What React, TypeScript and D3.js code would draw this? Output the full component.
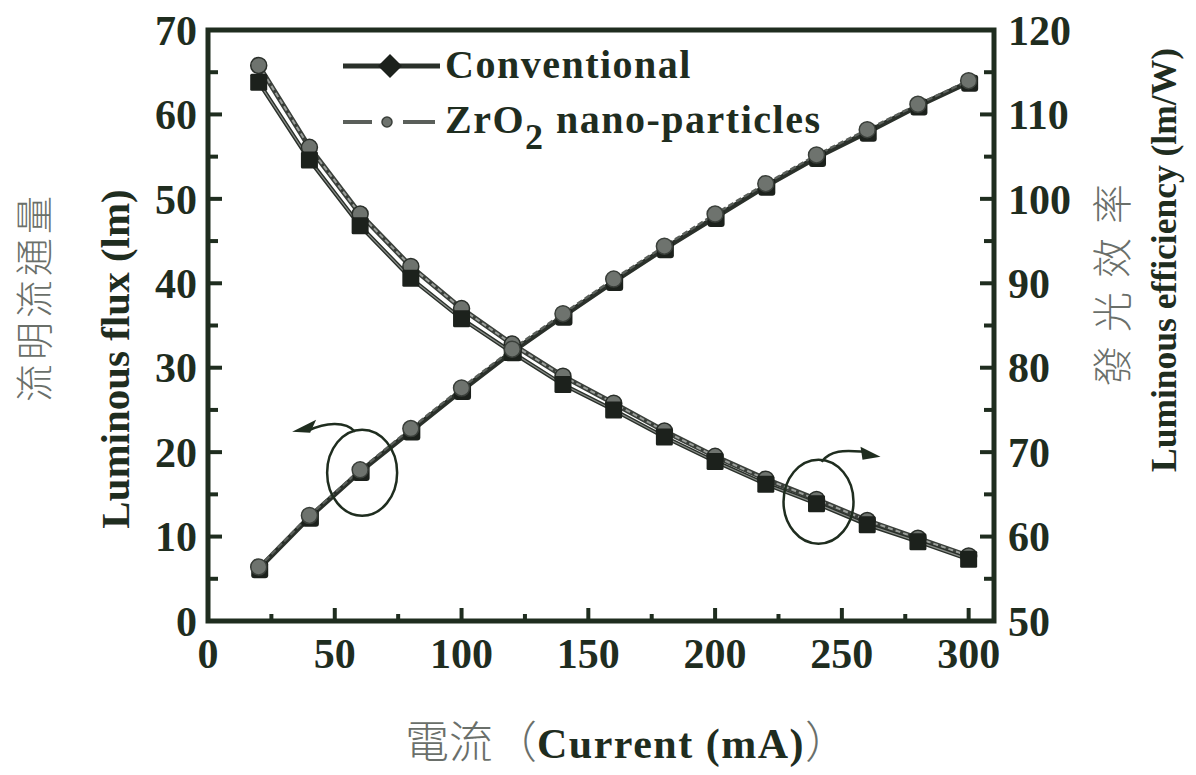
import React from "react";
import * as d3 from "d3";

const current = [20, 40, 60, 80, 100, 120, 140, 160, 180, 200, 220, 240, 260, 280, 300];
const fluxConventional = [6.2, 12.3, 17.7, 22.5, 27.3, 31.9, 36.1, 40.2, 44.1, 47.8, 51.5, 54.9, 57.9, 61.0, 63.8];
const fluxZrO2 = [6.4, 12.5, 17.9, 22.8, 27.6, 32.2, 36.4, 40.5, 44.4, 48.2, 51.8, 55.2, 58.2, 61.2, 64.0];
const effConventional = [113.8, 104.6, 96.8, 90.6, 85.8, 81.8, 78.0, 75.0, 71.8, 68.9, 66.2, 63.9, 61.4, 59.4, 57.3];
const effZrO2 = [115.8, 106.1, 98.2, 92.0, 87.0, 82.8, 79.0, 75.8, 72.5, 69.5, 66.8, 64.4, 61.9, 59.8, 57.7];

const xTicks = [0, 50, 100, 150, 200, 250, 300];
const xMinor = [25, 75, 125, 175, 225, 275];
const leftTicks = [0, 10, 20, 30, 40, 50, 60, 70];
const leftMinor = [5, 15, 25, 35, 45, 55, 65];
const rightTicks = [50, 60, 70, 80, 90, 100, 110, 120];
const rightMinor = [55, 65, 75, 85, 95, 105, 115];

const INK = "#1f2d1f";
const GRAY_TEXT = "#6a6f6a";
const SERIF = "'Liberation Serif', 'DejaVu Serif', serif";
const CJK = "'Noto Sans CJK TC', 'Noto Sans CJK SC', sans-serif";

export default function App() {
  const x = d3.scaleLinear().domain([0, 310]).range([208, 994]);
  const yL = d3.scaleLinear().domain([0, 70]).range([621, 30]);
  const yR = d3.scaleLinear().domain([50, 120]).range([621, 30]);

  const lineL = (vals: number[]) =>
    d3.line<number>().x((_, i) => x(current[i])).y((d) => yL(d))(vals) || "";
  const lineR = (vals: number[]) =>
    d3.line<number>().x((_, i) => x(current[i])).y((d) => yR(d))(vals) || "";

  const [x0, x1] = x.range();
  const [yb, yt] = yL.range();

  const sq = 17;
  const r = 8;

  const a1x = x(60), a1y = yL(17.8);
  const a2x = x(240), a2y = yR(63.9);

  return (
    <svg width={1196} height={775} style={{ position: "absolute", left: 0, top: 0, background: "#fff" }}>
      <rect x={0} y={0} width={1196} height={775} fill="#fff" />

      <path d={lineR(effZrO2)} fill="none" stroke="#3a3f3a" strokeWidth={5} />
      <path d={lineR(effZrO2)} fill="none" stroke="#9a9e9a" strokeWidth={2} strokeDasharray="5,3" />
      <path d={lineR(effConventional)} fill="none" stroke="#2a302a" strokeWidth={4} />
      <path d={lineR(effConventional)} fill="none" stroke="#8a8e8a" strokeWidth={1.2} />

      <path d={lineL(fluxConventional)} fill="none" stroke="#2a302a" strokeWidth={5} />
      <path d={lineL(fluxZrO2)} fill="none" stroke="#5a5f5a" strokeWidth={2.5} strokeDasharray="6,3" />

      {effZrO2.map((v, i) => (
        <circle key={"ez" + i} cx={x(current[i])} cy={yR(v)} r={r} fill="#6e736e" stroke="#2a2f2a" strokeWidth={1.5} />
      ))}
      {effConventional.map((v, i) => (
        <rect key={"ec" + i} x={x(current[i]) - sq / 2} y={yR(v) - sq / 2} width={sq} height={sq} fill="#1c211c" rx={1.5} />
      ))}

      {fluxConventional.map((v, i) => (
        <rect key={"fc" + i} x={x(current[i]) - sq / 2 + 1} y={yL(v) - sq / 2 + 1} width={sq} height={sq} fill="#1c211c" rx={3} />
      ))}
      {fluxZrO2.map((v, i) => (
        <circle key={"fz" + i} cx={x(current[i])} cy={yL(v)} r={r} fill="#6e736e" stroke="#3a3f3a" strokeWidth={1.5} />
      ))}

      <rect x={x0} y={yt} width={x1 - x0} height={yb - yt} fill="none" stroke={INK} strokeWidth={5} />

      {xTicks.map((t) => (
        <line key={"xt" + t} x1={x(t)} x2={x(t)} y1={yb} y2={yb - 13} stroke={INK} strokeWidth={4} />
      ))}
      {xMinor.map((t) => (
        <line key={"xm" + t} x1={x(t)} x2={x(t)} y1={yb} y2={yb - 7} stroke={INK} strokeWidth={4} />
      ))}
      {xTicks.map((t) => (
        <text key={"xl" + t} x={x(t)} y={668} textAnchor="middle" fontFamily={SERIF} fontWeight="bold" fontSize={42} fill={INK}>
          {t}
        </text>
      ))}

      {leftTicks.map((t) => (
        <line key={"lt" + t} x1={x0} x2={x0 + 14} y1={yL(t)} y2={yL(t)} stroke={INK} strokeWidth={4} />
      ))}
      {leftMinor.map((t) => (
        <line key={"lm" + t} x1={x0} x2={x0 + 10} y1={yL(t)} y2={yL(t)} stroke={INK} strokeWidth={4} />
      ))}
      {leftTicks.map((t) => (
        <text key={"ll" + t} x={197} y={yL(t)} dy="0.35em" textAnchor="end" fontFamily={SERIF} fontWeight="bold" fontSize={42} fill={INK}>
          {t}
        </text>
      ))}

      {rightTicks.map((t) => (
        <line key={"rt" + t} x1={x1} x2={x1 - 14} y1={yR(t)} y2={yR(t)} stroke={INK} strokeWidth={4} />
      ))}
      {rightMinor.map((t) => (
        <line key={"rm" + t} x1={x1} x2={x1 - 10} y1={yR(t)} y2={yR(t)} stroke={INK} strokeWidth={4} />
      ))}
      {rightTicks.map((t) => (
        <text key={"rl" + t} x={1008} y={yR(t)} dy="0.35em" textAnchor="start" fontFamily={SERIF} fontWeight="bold" fontSize={42} fill={INK}>
          {t}
        </text>
      ))}

      <text x={405} y={758} textAnchor="start" fontFamily={SERIF} fontSize={42} fill={INK}>
        <tspan fontFamily={CJK} fontWeight={300} fontSize={44} fill={GRAY_TEXT}>電流（</tspan>
        <tspan fontWeight="bold" letterSpacing={1.5}>Current (mA)</tspan>
        <tspan fontFamily={CJK} fontWeight={300} fontSize={44} fill={GRAY_TEXT}>）</tspan>
      </text>

      <text transform="translate(48,297) rotate(-90)" textAnchor="middle" fontFamily={CJK} fontWeight={300} fontSize={38} fill={GRAY_TEXT} letterSpacing={4}>
        流明流通量
      </text>
      <text transform="translate(129,359) rotate(-90)" textAnchor="middle" fontFamily={SERIF} fontWeight="bold" fontSize={41} fill={INK}>
        Luminous flux (lm)
      </text>

      <text transform="translate(1127,278) rotate(-90)" textAnchor="middle" fontFamily={CJK} fontWeight={300} fontSize={40} fill={GRAY_TEXT} letterSpacing={14}>
        發光效率
      </text>
      <text transform="translate(1176,260) rotate(-90)" textAnchor="middle" fontFamily={SERIF} fontWeight="bold" fontSize={35.5} fill={INK}>
        Luminous efficiency (lm/W)
      </text>

      <line x1={343} x2={440} y1={66} y2={66} stroke="#2a302a" strokeWidth={5} />
      <path d={`M390,54 L402,66 L390,78 L378,66 Z`} fill="#1c211c" />
      <text x={445} y={78} fontFamily={SERIF} fontWeight="bold" fontSize={40} fill={INK} letterSpacing={1.5}>Conventional</text>

      <line x1={343} x2={372} y1={122} y2={122} stroke="#5a5f5a" strokeWidth={4} />
      <line x1={403} x2={435} y1={122} y2={122} stroke="#5a5f5a" strokeWidth={4} />
      <circle cx={387} cy={122} r={5} fill="#6e736e" stroke="#3a3f3a" strokeWidth={1.5} />
      <text x={445} y={133} fontFamily={SERIF} fontWeight="bold" fontSize={40} fill={INK} letterSpacing={1.5}>
        ZrO<tspan dy={16} fontSize={36}>2</tspan><tspan dy={-16}> nano-particles</tspan>
      </text>

      <ellipse cx={a1x + 2} cy={a1y + 2} rx={35} ry={43} fill="none" stroke={INK} strokeWidth={2.5} />
      <path
        d={`M${a1x - 5},${a1y - 39} C${a1x - 15},${a1y - 50} ${a1x - 35},${a1y - 48} ${a1x - 52},${a1y - 40}`}
        fill="none" stroke={INK} strokeWidth={2.5}
      />
      <path d={`M${a1x - 68},${a1y - 39} L${a1x - 44},${a1y - 51} L${a1x - 50},${a1y - 38} Z`} fill={INK} />

      <ellipse cx={a2x + 2} cy={a2y - 2} rx={35} ry={42} fill="none" stroke={INK} strokeWidth={2.5} />
      <path
        d={`M${a2x + 5},${a2y - 42} C${a2x + 15},${a2y - 55} ${a2x + 30},${a2y - 53} ${a2x + 48},${a2y - 52}`}
        fill="none" stroke={INK} strokeWidth={2.5}
      />
      <path d={`M${a2x + 64},${a2y - 47} L${a2x + 44},${a2y - 57} L${a2x + 46},${a2y - 44} Z`} fill={INK} />
    </svg>
  );
}
